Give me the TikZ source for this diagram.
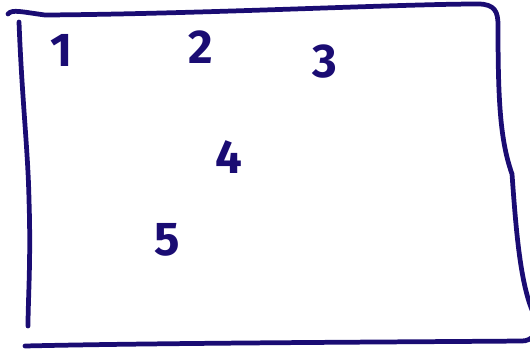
\documentclass[tikz,border=0pt]{standalone}
\usepackage{fontspec}
\setmainfont{Fira Sans}
\definecolor{ink}{RGB}{26,12,115}
\begin{document}
\begin{tikzpicture}[x=0.02cm,y=-0.02cm,
  stroke/.style={draw=ink,line width=2.7pt,line cap=round,line join=round},
  digit/.style={text=ink,font=\fontsize{27}{27}\selectfont\bfseries,inner sep=0pt}]
\useasboundingbox (0,0) rectangle (530,348);
% frame
\draw[stroke] (8,14) .. controls (12,9) and (22,12) .. (45,15)
  .. controls (200,14) and (400,4) .. (478,4)
  .. controls (495,4) and (498,12) .. (498,25)
  .. controls (498,100) and (500,140) .. (512,174)
  .. controls (516,230) and (520,280) .. (532,310);
\draw[stroke] (19,22) .. controls (22,100) and (28,150) .. (29,200)
  .. controls (31,260) and (28,300) .. (28,326);
\draw[stroke] (25,346) .. controls (150,343) and (400,342) .. (522,341)
  .. controls (527,341) and (530,339) .. (533,337);
% digits
\node[digit] (n1) at (62,50) {1};
\node[digit] (n2) at (201,47) {2};
\node[digit] (n3) at (325,62) {3};
\node[digit] (n4) at (229,157) {4};
\node[digit] (n5) at (167,240) {5};
\end{tikzpicture}
\end{document}
